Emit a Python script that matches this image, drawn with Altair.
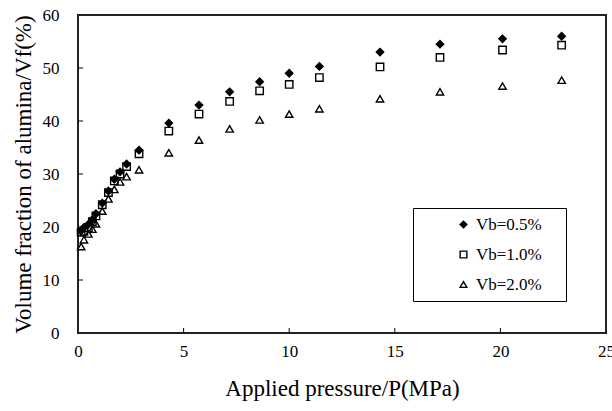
import altair as alt
import pandas as pd

pressure = [0.15, 0.28, 0.49, 0.68, 0.85, 1.15, 1.44, 1.72, 1.99, 2.30, 2.89,
            4.3, 5.73, 7.18, 8.6, 10.0, 11.43, 14.3, 17.14, 20.1, 22.9]
vb05 = [19.3, 19.9, 20.5, 21.4, 22.5, 24.5, 26.8, 29.0, 30.4, 31.9, 34.5,
        39.6, 43.0, 45.5, 47.4, 49.0, 50.3, 53.0, 54.5, 55.5, 56.0]
vb10 = [19.0, 19.2, 19.9, 21.0, 22.1, 24.2, 26.5, 28.7, 30.0, 31.4, 33.8,
        38.1, 41.3, 43.7, 45.7, 46.9, 48.2, 50.2, 52.0, 53.4, 54.3]
vb20 = [16.3, 17.6, 18.7, 19.6, 20.6, 23.0, 25.3, 27.1, 28.5, 29.5, 30.8,
        34.0, 36.4, 38.5, 40.2, 41.3, 42.3, 44.2, 45.5, 46.6, 47.7]
series = ["Vb=0.5%", "Vb=1.0%", "Vb=2.0%"]
x_ticks = [5, 10, 15, 20]
y_ticks = [10, 20, 30, 40, 50]

rows = []
for name, vals in zip(series, [vb05, vb10, vb20]):
    for p, v in zip(pressure, vals):
        rows.append({"P": p, "Vf": v, "series": name})
df = pd.DataFrame(rows)

W, H = 528, 318
xscale = alt.Scale(domain=[0, 25], nice=False)
yscale = alt.Scale(domain=[0, 60], nice=False)
serif = "Liberation Serif"

def leg():
    return alt.Legend(title=".", titleOrient="right", titleColor="white", titleFontSize=10,
                      titlePadding=13,
                      orient="none", legendX=335, legendY=193,
                      strokeColor="black", fillColor="white", padding=8,
                      rowPadding=12, symbolOffset=34, labelFont=serif,
                      labelFontSize=17, labelColor="black", symbolSize=45,
                      symbolStrokeWidth=1.4)

points = alt.Chart(df).mark_point(strokeWidth=1.4, opacity=1).encode(
    x=alt.X("P:Q", scale=xscale,
            axis=alt.Axis(title="Applied pressure/P(MPa)", values=[0, 5, 10, 15, 20, 25],
                          labelPadding=10, labelFlush=False, titleY=55, titleBaseline="middle")),
    y=alt.Y("Vf:Q", scale=yscale,
            axis=alt.Axis(title="Volume fraction of alumina/Vf(%)", values=[0, 10, 20, 30, 40, 50, 60],
                          labelPadding=19, labelFlush=False, titleX=-55, titleY=H / 2,
                          titleAlign="center", titleBaseline="middle", titleAngle=-90)),
    shape=alt.Shape("series:N", scale=alt.Scale(domain=series, range=["diamond", "square", "triangle-up"]),
                    legend=leg()),
    fill=alt.Fill("series:N", scale=alt.Scale(domain=series, range=["black", "transparent", "transparent"]),
                  legend=leg()),
    stroke=alt.Stroke("series:N", scale=alt.Scale(domain=series, range=["black", "black", "black"]),
                      legend=leg()),
    size=alt.value(55),
)

xt = alt.Chart(pd.DataFrame({"t": x_ticks})).mark_rule(color="black", strokeWidth=1).encode(
    x=alt.X("t:Q", scale=xscale), y=alt.value(H), y2=alt.value(H - 5))
yt = alt.Chart(pd.DataFrame({"t": y_ticks})).mark_rule(color="black", strokeWidth=1).encode(
    y=alt.Y("t:Q", scale=yscale), x=alt.value(0), x2=alt.value(5))

chart = alt.layer(points, xt, yt).properties(
    width=W, height=H,
    background="white",
    autosize=alt.AutoSizeParams(type="none"),
    padding={"left": 78, "top": 15, "right": 6, "bottom": 78},
).configure_view(stroke="#222", strokeWidth=2).configure_axis(
    grid=False, ticks=False, domain=False,
    labelFontSize=17, labelFont=serif, labelColor="black",
    titleFont=serif, titleFontSize=23, titleFontWeight="normal", titleColor="black",
)

chart.save("out.html", embed_options={"renderer": "svg", "actions": False})
